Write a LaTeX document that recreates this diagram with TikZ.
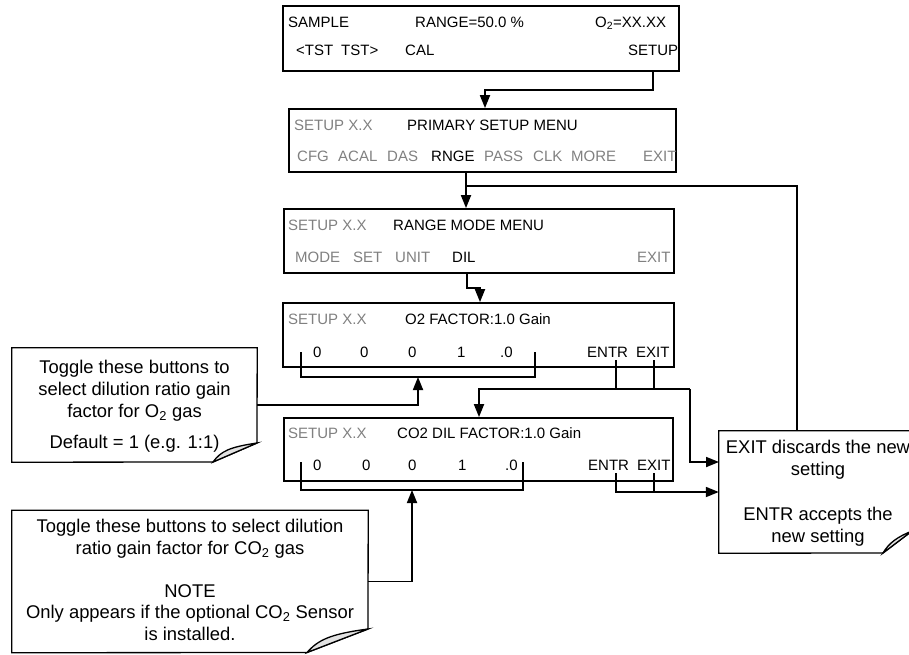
\documentclass[tikz,border=0pt]{standalone}
\usepackage{fontspec}
\setmainfont{Liberation Sans}
\usetikzlibrary{arrows.meta}
\definecolor{menugray}{RGB}{128,128,128}
\definecolor{foldgray}{RGB}{226,226,226}
\begin{document}
\begin{tikzpicture}[x=1pt,y=-1pt,
  dispbox/.style={draw, line width=1.8pt, rectangle, inner sep=0pt},
  dtxt/.style={anchor=base west, inner sep=0pt, font=\fontsize{15}{18}\selectfont},
  gtxt/.style={dtxt, text=menugray},
  ntxt/.style={anchor=base, inner sep=0pt, align=center, font=\fontsize{18.4}{22}\selectfont},
  notebox/.style={inner sep=0pt},
  conn/.style={line width=1.8pt},
  arr/.style={conn, -{Triangle[length=13pt,width=10pt]}},
  noteline/.style={line width=1.3pt, line join=miter},
  flap/.style={line width=1.3pt, fill=foldgray}
]
\useasboundingbox (0,0) rectangle (909,654);

% ---------- display boxes ----------
\node[dispbox, minimum width=396pt, minimum height=65pt] (b1) at (481,38.5) {};
\node[dispbox, minimum width=387pt, minimum height=63pt] (b2) at (482.5,140.5) {};
\node[dispbox, minimum width=390pt, minimum height=64pt] (b3) at (479,241) {};
\node[dispbox, minimum width=391pt, minimum height=64pt] (b4) at (478.5,335) {};
\node[dispbox, minimum width=389pt, minimum height=63pt] (b5) at (478.5,449.5) {};

% box 1
\node[dtxt] (sample) at (288,27) {SAMPLE};
\node[dtxt] (range) at (415,27) {RANGE=50.0 \%};
\node[dtxt] (otwo) at (595,27) {O\textsubscript{2}=XX.XX};
\node[dtxt] (tstl) at (296,55) {<TST};
\node[dtxt] (tstr) at (341,55) {TST>};
\node[dtxt] (cal) at (405,55) {CAL};
\node[dtxt] (setup) at (628,55) {SETUP};

% box 2
\node[gtxt] (b2ver) at (294,130) {SETUP X.X};
\node[dtxt] (b2title) at (407,130) {PRIMARY SETUP MENU};
\node[gtxt] (cfg) at (297,161) {CFG};
\node[gtxt] (acal) at (338,161) {ACAL};
\node[gtxt] (das) at (387,161) {DAS};
\node[dtxt] (rnge) at (431,161) {RNGE};
\node[gtxt] (pass) at (484,161) {PASS};
\node[gtxt] (clk) at (533,161) {CLK};
\node[gtxt] (more) at (571,161) {MORE};
\node[gtxt] (b2exit) at (643,161) {EXIT};

% box 3
\node[gtxt] (b3ver) at (288,230) {SETUP X.X};
\node[dtxt] (b3title) at (393,230) {RANGE MODE MENU};
\node[gtxt] (mode) at (295,262) {MODE};
\node[gtxt] (set) at (353,262) {SET};
\node[gtxt] (unit) at (395,262) {UNIT};
\node[dtxt] (dil) at (452,262) {DIL};
\node[gtxt] (b3exit) at (637,262) {EXIT};

% box 4
\node[gtxt] (b4ver) at (288,324) {SETUP X.X};
\node[dtxt] (b4title) at (405,324) {O2 FACTOR:1.0 Gain};
\node[dtxt] (b4da) at (313,357) {0};
\node[dtxt] (b4db) at (360,357) {0};
\node[dtxt] (b4dc) at (408,357) {0};
\node[dtxt] (b4dd) at (457,357) {1};
\node[dtxt] (b4de) at (500,357) {.0};
\node[dtxt] (b4entr) at (587,357) {ENTR};
\node[dtxt] (b4exit) at (636,357) {EXIT};

% box 5
\node[gtxt] (b5ver) at (288,438) {SETUP X.X};
\node[dtxt] (b5title) at (397,438) {CO2 DIL FACTOR:1.0 Gain};
\node[dtxt] (b5da) at (313,470) {0};
\node[dtxt] (b5db) at (362,470) {0};
\node[dtxt] (b5dc) at (408,470) {0};
\node[dtxt] (b5dd) at (458,470) {1};
\node[dtxt] (b5de) at (505,470) {.0};
\node[dtxt] (b5entr) at (588,470) {ENTR};
\node[dtxt] (b5exit) at (637,470) {EXIT};

% ---------- notes ----------
\node[notebox, minimum width=245pt, minimum height=114pt] (n1) at (134.5,405) {};
\coordinate (f1a) at (213,462);
\coordinate (f1b) at (257,443);
\draw[noteline] (f1a) -- (n1.south west) -- (n1.north west) -- (n1.north east) -- (f1b) -- cycle;
\draw[flap] (f1a) .. controls (221,451) and (230,447) .. (f1b) -- cycle;
\node[ntxt] (n1text) at (134.5,448) {Toggle these buttons to\\select dilution ratio gain\\factor for O\textsubscript{2} gas\\[9pt]Default = 1 (e.g. 1:1)};

\node[notebox, minimum width=356pt, minimum height=142pt] (n2) at (190,581.5) {};
\coordinate (f2a) at (307,652.5);
\coordinate (f2b) at (368,629);
\draw[noteline] (f2a) -- (n2.south west) -- (n2.north west) -- (n2.north east) -- (f2b) -- cycle;
\draw[flap] (f2a) .. controls (318,640) and (330,634) .. (f2b) -- cycle;
\node[ntxt, font=\fontsize{18.4}{21.5}\selectfont] (n2text) at (190,640) {Toggle these buttons to select dilution\\ratio gain factor for CO\textsubscript{2} gas\\[21.5pt]NOTE\\Only appears if the optional CO\textsubscript{2} Sensor\\is installed.};

\node[notebox, minimum width=193pt, minimum height=122pt] (n3) at (815.5,492) {};
\coordinate (f3a) at (883,553);
\coordinate (f3b) at (912,531);
\draw[noteline] (f3a) -- (n3.south west) -- (n3.north west) -- (n3.north east) -- (f3b) -- cycle;
\draw[flap] (f3a) .. controls (889,543) and (897,537) .. (f3b) -- cycle;
\node[ntxt, font=\fontsize{18.4}{21.5}\selectfont] (n3text) at (818,542) {EXIT discards the new\\setting\\[24pt]ENTR accepts the\\new setting};

% ---------- connectors ----------
% SETUP -> primary setup menu
\coordinate (c2) at (485,90);
\draw[arr] (b1.south -| setup.center) |- (c2) -- (b2.north -| c2);

% RNGE -> range mode menu, with return line from the EXIT note
\coordinate (r) at (466,186);
\coordinate (rt) at (797,186);
\draw[arr] (b2.south -| r) -- (b3.north -| r);
\draw[conn] (r) -- (rt) -- (n3.north -| rt);

% DIL -> O2 factor
\coordinate (d1) at (467,288);
\coordinate (d2) at (480,288);
\draw[arr] (b3.south -| d1) -- (d1) -- (d2) -- (b4.north -| d2);

% box 4 digit bracket and note 1
\coordinate (k1) at (301,352);
\coordinate (k2) at (535,377);
\draw[conn] (k1) |- (k2) -- (k2 |- k1);
\coordinate (a1) at (418,377);
\draw[arr] (n1.east) -| (a1);

% box 4 ENTR / EXIT
\coordinate (e1) at (616,360);
\coordinate (x1) at (654,360);
\coordinate (j) at (690,389);
\coordinate (m) at (479,389);
\coordinate (n3a) at (719,462);
\draw[conn] (e1) -- (e1 |- j);
\draw[conn] (x1) -- (x1 |- j);
\draw[arr] (j) -- (m) -- (b5.north -| m);
\draw[arr] (j) |- (n3a);

% box 5 digit bracket and note 2
\coordinate (k3) at (301,462);
\coordinate (k4) at (523,490);
\draw[conn] (k3) |- (k4) -- (k4 |- k3);
\coordinate (a2) at (412,490);
\draw[arr] (n2.east) -| (a2);

% box 5 ENTR / EXIT
\coordinate (e2) at (616,473);
\coordinate (x2) at (654,473);
\coordinate (g) at (616,492);
\draw[conn] (x2) -- (x2 |- g);
\draw[arr] (e2) -- (g) -- (n3.west);
\end{tikzpicture}
\end{document}
